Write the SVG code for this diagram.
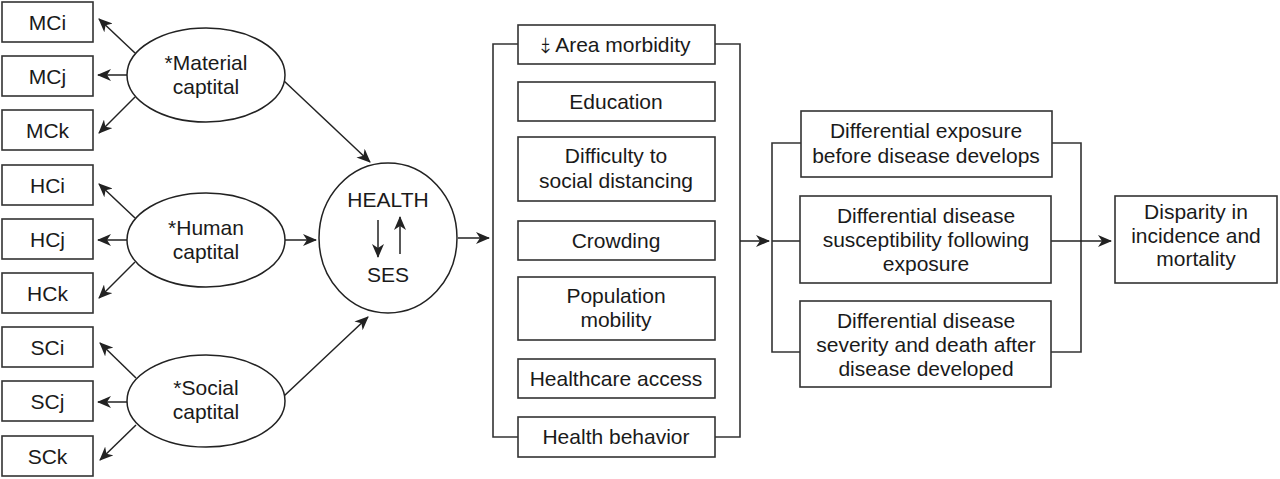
<svg xmlns="http://www.w3.org/2000/svg" width="1280" height="479" viewBox="0 0 1280 479">
<style>
.box{fill:#fff;stroke:#333;stroke-width:1.6}
.ell{fill:#fff;stroke:#222;stroke-width:1.5}
.ln{fill:none;stroke:#333;stroke-width:1.6}
.ar{fill:none;stroke:#222;stroke-width:1.5;marker-end:url(#ah)}
text{font-family:"Liberation Sans","Open Sans","DejaVu Sans",sans-serif;font-size:21px;fill:#1a1a1a;text-anchor:middle}
</style>
<defs>
<marker id="ah" markerUnits="userSpaceOnUse" markerWidth="14" markerHeight="12" refX="13" refY="6" orient="auto" viewBox="0 0 14 12">
<path d="M0,0 L14,6 L0,12 L4,6 z" fill="#222"/>
</marker>
</defs>
<rect width="1280" height="479" fill="#fff"/>

<g id="connectors">
<line class="ar" x1="135" y1="53" x2="99" y2="19"/>
<line class="ar" x1="127" y1="75" x2="98" y2="75"/>
<line class="ar" x1="135" y1="97" x2="99" y2="133"/>
<line class="ar" x1="135" y1="218" x2="99" y2="184"/>
<line class="ar" x1="127" y1="240" x2="98" y2="240"/>
<line class="ar" x1="135" y1="262" x2="99" y2="298"/>
<line class="ar" x1="136" y1="378" x2="100" y2="343"/>
<line class="ar" x1="127" y1="402" x2="98" y2="402"/>
<line class="ar" x1="136" y1="425" x2="100" y2="460"/>
<line class="ar" x1="283" y1="80" x2="370" y2="162"/>
<line class="ar" x1="285" y1="240" x2="316" y2="240"/>
<line class="ar" x1="284" y1="396" x2="368" y2="317"/>
<line class="ar" x1="458" y1="238" x2="489" y2="238"/>
<polyline class="ln" points="518,44 493,44 493,437 518,437"/>
<polyline class="ln" points="715,44 740,44 740,437 715,437"/>
<line class="ar" x1="740" y1="241" x2="769" y2="241"/>
<polyline class="ln" points="801,143 772,143 772,352 800,352"/>
<line class="ln" x1="772" y1="241" x2="800" y2="241"/>
<polyline class="ln" points="1052,143 1081,143 1081,352 1051,352"/>
<line class="ar" x1="1051" y1="241" x2="1111" y2="241"/>
</g>

<g id="MCi"><rect class="box" x="2" y="2" width="91" height="40"/><text x="47.5" y="29.5">MCi</text></g>
<g id="MCj"><rect class="box" x="2" y="56" width="91" height="40"/><text x="47.5" y="83.5">MCj</text></g>
<g id="MCk"><rect class="box" x="2" y="110" width="91" height="40"/><text x="47.5" y="137.5">MCk</text></g>
<g id="HCi"><rect class="box" x="2" y="165" width="91" height="40"/><text x="47.5" y="192.5">HCi</text></g>
<g id="HCj"><rect class="box" x="2" y="219" width="91" height="40"/><text x="47.5" y="246.5">HCj</text></g>
<g id="HCk"><rect class="box" x="2" y="273" width="91" height="40"/><text x="47.5" y="300.5">HCk</text></g>
<g id="SCi"><rect class="box" x="2" y="327" width="91" height="40"/><text x="47.5" y="354.5">SCi</text></g>
<g id="SCj"><rect class="box" x="2" y="381" width="91" height="40"/><text x="47.5" y="408.5">SCj</text></g>
<g id="SCk"><rect class="box" x="2" y="436" width="91" height="40"/><text x="47.5" y="463.5">SCk</text></g>

<g id="material"><ellipse class="ell" cx="206" cy="75" rx="79" ry="47"/><text x="206" y="70">*Material<tspan x="206" dy="24">captital</tspan></text></g>
<g id="human"><ellipse class="ell" cx="206" cy="240" rx="79" ry="47"/><text x="206" y="235">*Human<tspan x="206" dy="24">captital</tspan></text></g>
<g id="social"><ellipse class="ell" cx="206" cy="401" rx="79" ry="46"/><text x="206" y="395">*Social<tspan x="206" dy="24">captital</tspan></text></g>

<g id="health">
<ellipse class="ell" cx="388" cy="238" rx="69" ry="75"/>
<text x="388" y="207">HEALTH</text>
<text x="388" y="282">SES</text>
<line class="ar" x1="378" y1="220" x2="378" y2="257"/>
<line class="ar" x1="400" y1="254" x2="400" y2="217"/>
</g>

<g id="area"><rect class="box" x="518" y="25" width="197" height="39"/><text x="616" y="52">⤈ Area morbidity</text></g>
<g id="education"><rect class="box" x="518" y="82" width="197" height="39"/><text x="616" y="109">Education</text></g>
<g id="difficulty"><rect class="box" x="518" y="137" width="197" height="64"/><text x="616" y="163">Difficulty to<tspan x="616" dy="25">social distancing</tspan></text></g>
<g id="crowding"><rect class="box" x="518" y="221" width="197" height="39"/><text x="616" y="248">Crowding</text></g>
<g id="population"><rect class="box" x="518" y="277" width="197" height="63"/><text x="616" y="303">Population<tspan x="616" dy="24">mobility</tspan></text></g>
<g id="healthcare"><rect class="box" x="518" y="359" width="197" height="39"/><text x="616" y="386">Healthcare access</text></g>
<g id="behavior"><rect class="box" x="518" y="417" width="197" height="40"/><text x="616" y="444">Health behavior</text></g>

<g id="exposure"><rect class="box" x="801" y="111" width="251" height="66"/><text x="926" y="138">Differential exposure<tspan x="926" dy="25">before disease develops</tspan></text></g>
<g id="susceptibility"><rect class="box" x="800" y="196" width="251" height="87"/><text x="926" y="223">Differential disease<tspan x="926" dy="24">susceptibility following</tspan><tspan x="926" dy="24">exposure</tspan></text></g>
<g id="severity"><rect class="box" x="800" y="301" width="251" height="86"/><text x="926" y="328">Differential disease<tspan x="926" dy="24">severity and death after</tspan><tspan x="926" dy="24">disease developed</tspan></text></g>
<g id="disparity"><rect class="box" x="1115" y="196" width="162" height="87"/><text x="1196" y="219">Disparity in<tspan x="1196" dy="23.6">incidence and</tspan><tspan x="1196" dy="23.6">mortality</tspan></text></g>
</svg>
